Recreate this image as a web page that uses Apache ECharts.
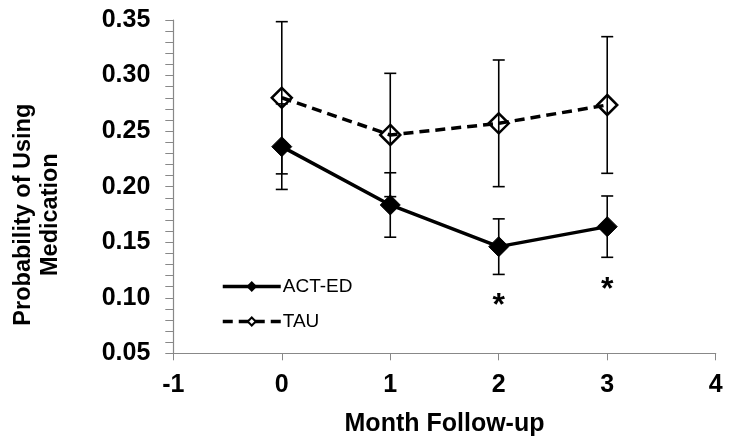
<!DOCTYPE html>
<html><head><meta charset="utf-8">
<script src="https://cdn.jsdelivr.net/npm/echarts@6/dist/echarts.min.js"></script>
<style>html,body{margin:0;padding:0;background:#fff}#c{width:732px;height:447px}</style>
</head><body><div id="c"></div>
<script>
var months = [0, 1, 2, 3];
var actEd = [0.236, 0.1835, 0.146, 0.164];
var actEdErr = [0.0385, 0.029, 0.025, 0.0276];
var tau = [0.280, 0.2465, 0.257, 0.2735];
var tauErr = [0.0685, 0.0555, 0.057, 0.0615];
var sigMonths = [2, 3];
var sigY = [0.092, 0.107];
var xTicks = [-1, 0, 1, 2, 3, 4];
var yTicks = [0.05, 0.10, 0.15, 0.20, 0.25, 0.30, 0.35];

var chart = echarts.init(document.getElementById('c'));
var font = 'Arial, "Liberation Sans", sans-serif';

function errData(vals, errs) {
  return months.map(function (m, i) { return [m, vals[i] - errs[i], vals[i] + errs[i]]; });
}
function errRender(params, api) {
  var x = api.value(0);
  var lo = api.coord([x, api.value(1)]);
  var hi = api.coord([x, api.value(2)]);
  var w = 6;
  var st = { stroke: '#000', lineWidth: 1.6 };
  return { type: 'group', children: [
    { type: 'line', shape: { x1: lo[0], y1: lo[1], x2: hi[0], y2: hi[1] }, style: st },
    { type: 'line', shape: { x1: lo[0] - w, y1: lo[1], x2: lo[0] + w, y2: lo[1] }, style: st },
    { type: 'line', shape: { x1: hi[0] - w, y1: hi[1], x2: hi[0] + w, y2: hi[1] }, style: st }
  ]};
}

chart.setOption({
  animation: false,
  backgroundColor: '#fff',
  grid: { left: 173.3, right: 16.3, top: 20, bottom: 93.7 },
  legend: {
    orient: 'vertical', left: 216, top: 272, itemWidth: 58, itemHeight: 10, itemGap: 16,
    data: ['ACT-ED', 'TAU'],
    lineStyle: { width: 3.5 },
    textStyle: { fontFamily: font, fontSize: 19, color: '#000', padding: [0, 0, 0, -3] }
  },
  xAxis: {
    type: 'value', min: xTicks[0], max: xTicks[xTicks.length - 1], interval: 1,
    name: 'Month Follow-up', nameLocation: 'middle', nameGap: 58,
    nameTextStyle: { fontFamily: font, fontSize: 25, fontWeight: 'bold', color: '#000' },
    axisLine: { show: true, onZero: false, lineStyle: { color: '#888', width: 1.2 } },
    axisTick: { show: true, length: 7, lineStyle: { color: '#888' } },
    axisLabel: { fontFamily: font, fontSize: 25, fontWeight: 'bold', color: '#000', margin: 19 },
    splitLine: { show: false }
  },
  yAxis: {
    type: 'value', min: yTicks[0], max: yTicks[yTicks.length - 1], interval: 0.05,
    name: 'Probability of Using\nMedication', nameLocation: 'middle', nameGap: 109, nameRotate: 90,
    nameTextStyle: { fontFamily: font, fontSize: 23.5, fontWeight: 'bold', color: '#000', lineHeight: 27.5,
      padding: [0, 56, 0, 0] },
    axisLine: { show: true, onZero: false, lineStyle: { color: '#888', width: 1.2 } },
    axisTick: { show: true, length: 8, lineStyle: { color: '#888' } },
    minorTick: { show: true, splitNumber: 5, length: 8, lineStyle: { color: '#888' } },
    axisLabel: { fontFamily: font, fontSize: 25, fontWeight: 'bold', color: '#000', margin: 23,
      formatter: function (v) { return v.toFixed(2); } },
    splitLine: { show: false }
  },
  series: [
    { name: 'ACT-ED err', type: 'custom', renderItem: errRender, data: errData(actEd, actEdErr), z: 3 },
    { name: 'TAU err', type: 'custom', renderItem: errRender, data: errData(tau, tauErr), z: 3 },
    {
      name: 'ACT-ED', type: 'line', data: months.map(function (m, i) { return [m, actEd[i]]; }),
      symbol: 'diamond', symbolSize: 20, showAllSymbol: true,
      lineStyle: { color: '#000', width: 3.5 },
      itemStyle: { color: '#000', borderColor: '#000', borderWidth: 1 }, z: 4
    },
    {
      name: 'TAU', type: 'line', data: months.map(function (m, i) { return [m, tau[i]]; }),
      symbol: 'diamond', symbolSize: 20, showAllSymbol: true,
      lineStyle: { color: '#000', width: 3.5, type: [10, 6] },
      itemStyle: { color: 'rgba(255,255,255,0)', borderColor: '#000', borderWidth: 2.5 }, z: 2
    },
    {
      name: 'sig', type: 'scatter', symbolSize: 1, itemStyle: { color: '#fff', opacity: 0 },
      data: sigMonths.map(function (m, i) { return [m, sigY[i]]; }),
      label: { show: true, position: 'inside', formatter: '*', fontFamily: font, fontSize: 32,
        fontWeight: 'bold', color: '#000', opacity: 1, textBorderWidth: 0 }
    }
  ]
});
</script></body></html>
